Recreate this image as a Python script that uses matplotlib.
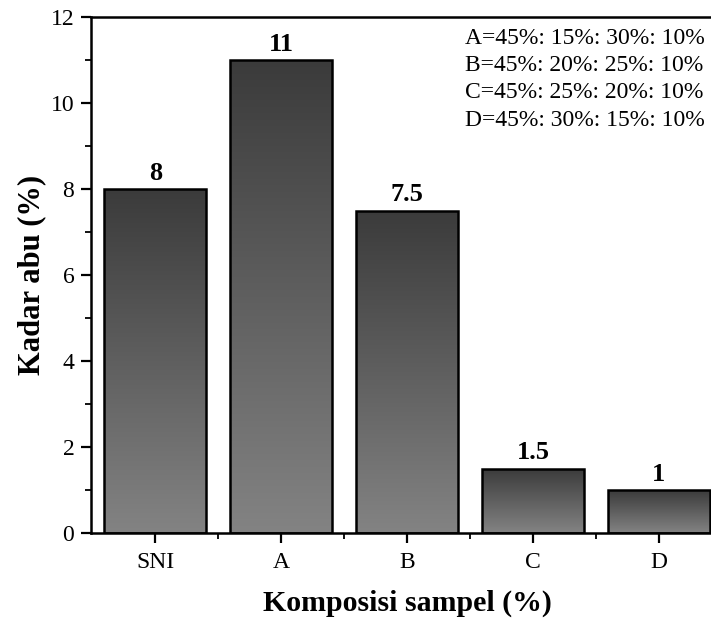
import numpy as np
import matplotlib
matplotlib.use("Agg")
import matplotlib.pyplot as plt
from matplotlib.colors import LinearSegmentedColormap
from matplotlib.ticker import MultipleLocator, FixedLocator

plt.rcParams['font.family'] = ['Liberation Serif', 'DejaVu Serif']

# data
categories = ["SNI", "A", "B", "C", "D"]
kadar_abu = [8, 11, 7.5, 1.5, 1]
bar_labels = ["8", "11", "7.5", "1.5", "1"]
komposisi = ["A=45%: 15%: 30%: 10%",
             "B=45%: 20%: 25%: 10%",
             "C=45%: 25%: 20%: 10%",
             "D=45%: 30%: 15%: 10%"]

fig = plt.figure(figsize=(7.11, 6.24), dpi=100)
# axes runs slightly past the right edge, as in the cropped original
ax = fig.add_axes([91 / 711, 1 - 533 / 624, 632 / 711, 516 / 624])

x = np.arange(len(categories))
bars = ax.bar(x, kadar_abu, width=0.81, facecolor="none",
              edgecolor="black", linewidth=1.8, zorder=3)

# vertical gradient fill per bar: dark at top, lighter at bottom
cmap = LinearSegmentedColormap.from_list("grad", ["#838383", "#3b3b3b"])
grad = np.linspace(0, 1, 256).reshape(-1, 1)
for b in bars:
    x0, y0 = b.get_x(), b.get_y()
    w, h = b.get_width(), b.get_height()
    im = ax.imshow(grad, cmap=cmap, origin="lower", aspect="auto",
                   extent=[x0, x0 + w, y0, y0 + h], zorder=2)
    im.set_clip_path(b)

for xi, v, lab in zip(x, kadar_abu, bar_labels):
    ax.text(xi, v + 0.1, lab, ha="center", va="bottom",
            fontsize=19, fontweight="bold")

ax.set_xlim(-0.51, 4.51)
ax.set_ylim(0, 12)
ax.set_xticks(x)
ax.set_xticklabels(categories)
ax.xaxis.set_minor_locator(FixedLocator(x[:-1] + 0.5))
ax.yaxis.set_major_locator(MultipleLocator(2))
ax.yaxis.set_minor_locator(MultipleLocator(1))
ax.tick_params(which="major", direction="out", length=7, width=1.6,
               labelsize=17)
ax.tick_params(which="minor", direction="out", length=4, width=1.3)
ax.tick_params(axis="x", which="major", pad=7)
ax.tick_params(axis="y", which="major", pad=5)

for s in ax.spines.values():
    s.set_linewidth(1.8)

ax.set_xlabel("Komposisi sampel (%)", fontsize=21.5, fontweight="bold",
              labelpad=12)
ax.set_ylabel("Kadar abu (%)", fontsize=22, fontweight="bold", labelpad=3)

for i, line in enumerate(komposisi):
    ax.text(465 / 711, 1 - (38 + 27.5 * i) / 624, line,
            transform=fig.transFigure, ha="left", va="center",
            fontsize=17)

fig.savefig("out.png", dpi=100)
